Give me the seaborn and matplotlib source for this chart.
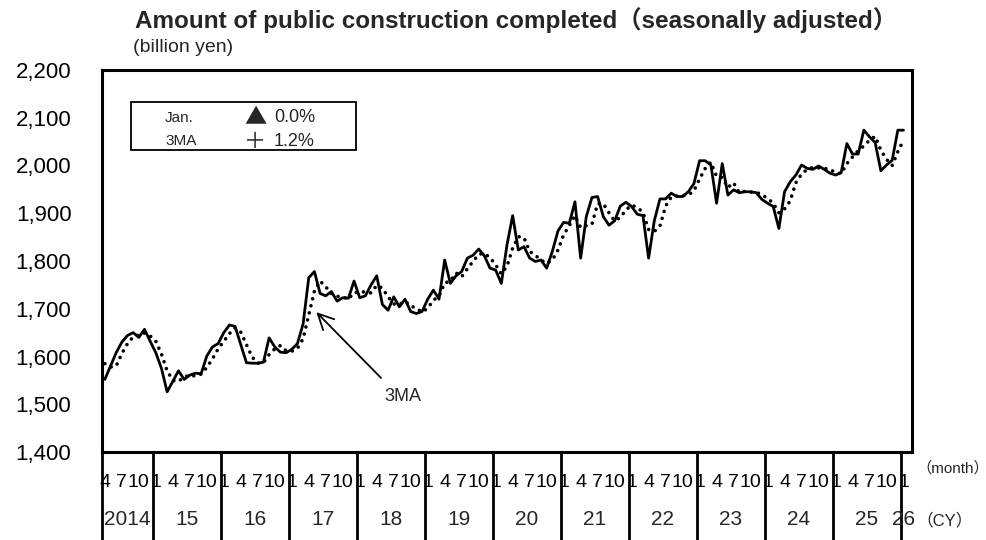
import numpy as np
import pandas as pd
import matplotlib
matplotlib.use("Agg")
import matplotlib.pyplot as plt
import matplotlib.transforms as mtransforms
from matplotlib.patches import Rectangle
import seaborn as sns

# -----------------------------
# DATA (billion yen, Apr 2014 - Jan 2026)
# -----------------------------
start_month = "2014-04"

amount = [
    1552, 1580, 1608, 1630, 1644, 1650, 1640, 1657, 1632, 1608, 1575, 1526,
    1548, 1570, 1552, 1561, 1565, 1564, 1601, 1620, 1627, 1650, 1666, 1663,
    1625, 1587, 1586, 1586, 1588, 1639, 1620, 1609, 1608, 1615, 1627, 1668,
    1765, 1778, 1732, 1727, 1736, 1716, 1723, 1722, 1758, 1723, 1727, 1750,
    1769, 1709, 1697, 1725, 1704, 1720, 1694, 1690, 1694, 1720, 1739, 1720,
    1802, 1753, 1769, 1778, 1806, 1812, 1825, 1811, 1785, 1781, 1753, 1834,
    1895, 1823, 1830, 1806, 1799, 1802, 1785, 1820, 1863, 1881, 1879, 1924,
    1806, 1893, 1933, 1935, 1893, 1875, 1884, 1915, 1923, 1914, 1898, 1895,
    1806, 1884, 1930, 1930, 1942, 1935, 1935, 1945, 1962, 2010, 2010, 2001,
    1921, 2004, 1938, 1949, 1943, 1945, 1945, 1943, 1929, 1921, 1914, 1868,
    1945, 1966, 1980, 2001, 1994, 1992, 1999, 1992, 1984, 1980, 1985, 2046,
    2024, 2024, 2074, 2060, 2048, 1989, 2001, 2011, 2074, 2074,
]

ma3 = [
    1585, 1578, 1580, 1606, 1627, 1641, 1645, 1649, 1643, 1632, 1605, 1570,
    1550, 1548, 1557, 1561, 1559, 1563, 1577, 1595, 1616, 1632, 1648, 1660,
    1651, 1625, 1599, 1586, 1587, 1604, 1616, 1623, 1612, 1611, 1617, 1637,
    1687, 1737, 1758, 1746, 1732, 1726, 1725, 1720, 1734, 1734, 1736, 1733,
    1749, 1743, 1725, 1710, 1709, 1716, 1706, 1701, 1693, 1701, 1718, 1726,
    1754, 1758, 1775, 1767, 1784, 1799, 1814, 1816, 1807, 1792, 1773, 1789,
    1827, 1851, 1849, 1820, 1812, 1802, 1795, 1802, 1823, 1855, 1874, 1895,
    1870, 1874, 1877, 1920, 1920, 1901, 1884, 1891, 1907, 1917, 1912, 1902,
    1866, 1862, 1873, 1915, 1934, 1936, 1937, 1938, 1947, 1972, 1994, 2007,
    1977, 1975, 1954, 1964, 1943, 1946, 1944, 1944, 1939, 1931, 1921, 1901,
    1909, 1926, 1964, 1982, 1992, 1996, 1995, 1994, 1992, 1985, 1983, 2004,
    2018, 2031, 2041, 2053, 2061, 2032, 2013, 2000, 2029, 2053,
]

label_months = [1, 4, 7, 10]
year_labels = ["2014", "15", "16", "17", "18", "19", "20",
               "21", "22", "23", "24", "25", "26"]
legend_names = ["Jan.", "3MA"]
legend_signs = ["▲", "＋"]
legend_values = ["0.0%", "1.2%"]
y_ticks = [1400, 1500, 1600, 1700, 1800, 1900, 2000, 2100, 2200]

months = pd.period_range(start_month, periods=len(amount), freq="M")
df = pd.DataFrame({
    "idx": np.arange(len(amount)),
    "amount": amount,
    "ma3": ma3,
    "month": months.month,
    "year": months.year,
})

# -----------------------------
# STYLE
# -----------------------------
sns.set_style("white")
plt.rcParams["font.family"] = ["Liberation Sans", "Noto Sans CJK JP", "DejaVu Sans"]

W, H = 987, 540
fig = plt.figure(figsize=(W / 100, H / 100), dpi=100)
ax = fig.add_axes([102 / W, 1 - 452 / H, 810 / W, 382 / H])

# -----------------------------
# LINES
# -----------------------------
sns.lineplot(data=df, x="idx", y="amount", ax=ax, color="black", lw=2.0)
sns.lineplot(data=df, x="idx", y="ma3", ax=ax, color="black", lw=2.6,
             linestyle=(0, (0.01, 2.0)), dash_capstyle="round")

ax.set_xlim(-0.5, len(amount) + 0.5)
ax.set_ylim(1400, 2200)
ax.set_xlabel("")
ax.set_ylabel("")

for s in ax.spines.values():
    s.set_linewidth(2.2)
    s.set_color("black")

ax.set_yticks(y_ticks)
ax.set_yticklabels([f"{v:,}" for v in y_ticks])
ax.tick_params(axis="y", direction="in", length=6, width=1.5,
               labelsize=16, pad=22, colors="black")

tick_df = df[df["month"].isin(label_months)]
ax.set_xticks(tick_df["idx"])
ax.set_xticklabels([str(m) for m in tick_df["month"]])
ax.tick_params(axis="x", length=0, labelsize=14, pad=16, colors="black")

# year separators and year labels below the axis
trans = mtransforms.blended_transform_factory(ax.transData, ax.transAxes)
for yr, label in zip(sorted(df["year"].unique()), year_labels):
    sub = df[df["year"] == yr]
    x0 = sub["idx"].min() - 0.5
    x1 = sub["idx"].max() + 0.5
    ax.plot([x0, x0], [0, -0.235], transform=trans, color="black",
            lw=2.0, clip_on=False)
    ax.text((x0 + x1) / 2, -0.178, label, transform=trans, ha="center",
            va="center", fontsize=15)

fig.text(916 / W, 1 - 468 / H, "（month）", ha="left", va="center", fontsize=11)
fig.text(916 / W, 1 - 520 / H, "（CY）", ha="left", va="center", fontsize=12)

# -----------------------------
# TITLES
# -----------------------------
fig.text(516 / W, 1 - 20 / H,
         "Amount of public construction completed（seasonally adjusted）",
         ha="center", va="center", fontsize=17.5, fontweight="bold")
fig.text(133 / W, 1 - 47 / H, "(billion yen)", ha="left", va="center",
         fontsize=14)

# -----------------------------
# LEGEND BOX
# -----------------------------
bx0, bx1 = (131 - 102) / 810, (356 - 102) / 810
by0, by1 = (452 - 150) / 382, (452 - 102) / 382
ax.add_patch(Rectangle((bx0, by0), bx1 - bx0, by1 - by0, transform=ax.transAxes,
                       fill=False, edgecolor="black", lw=1.3, zorder=5))
for row, (name, sign, val) in enumerate(zip(legend_names, legend_signs, legend_values)):
    yy = (452 - (118 + 23 * row)) / 382
    ax.text((165 - 102) / 810, yy, name, transform=ax.transAxes,
            ha="left", va="center", fontsize=11)
    ax.text((255 - 102) / 810, yy, sign, transform=ax.transAxes,
            ha="center", va="center", fontsize=16, family="Noto Sans CJK JP")
    ax.text((274 - 102) / 810, yy, val, transform=ax.transAxes,
            ha="left", va="center", fontsize=13)

# -----------------------------
# 3MA ARROW
# -----------------------------
ax.annotate("", xy=(37.0, 1697), xytext=(49.1, 1551),
            arrowprops=dict(arrowstyle="->", lw=1.3, color="black",
                            mutation_scale=28))
ax.text(49.4, 1517, "3MA", ha="left", va="center", fontsize=13)

fig.savefig("out.png", dpi=100)
